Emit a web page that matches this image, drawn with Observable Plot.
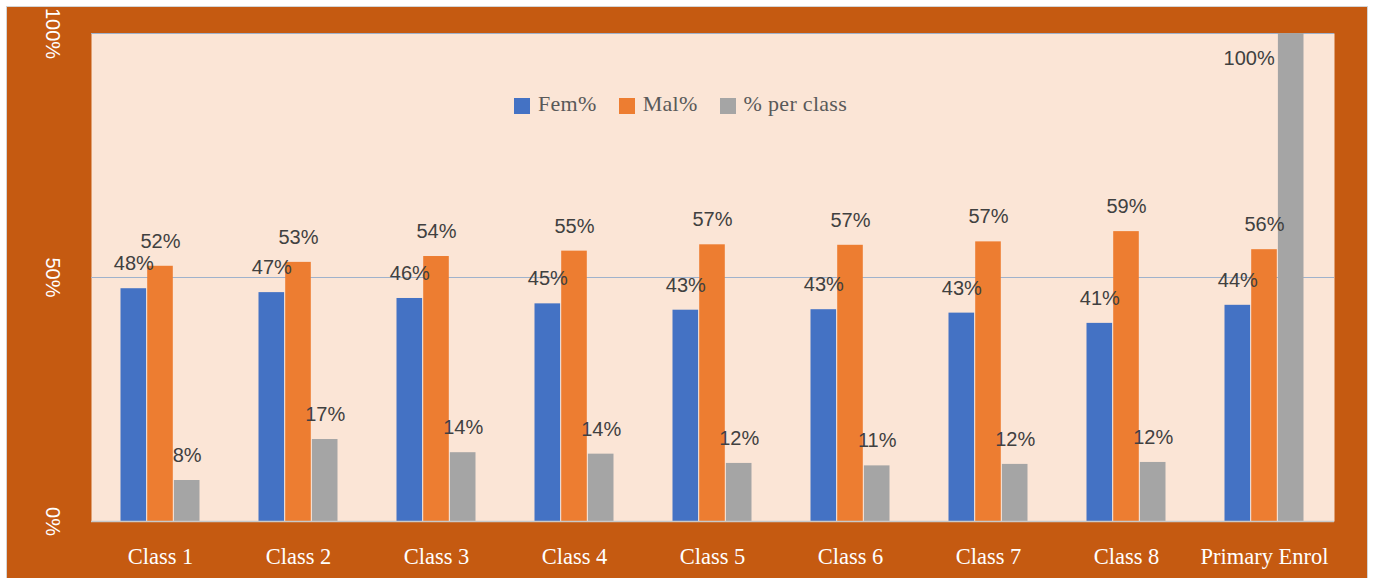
<!DOCTYPE html>
<html>
<head>
<meta charset="utf-8">
<script src="https://cdn.jsdelivr.net/npm/d3@7"></script>
<script src="https://cdn.jsdelivr.net/npm/@observablehq/plot@0.6"></script>
<style>
  html, body { margin: 0; padding: 0; background: #ffffff; }
  #wrap { position: relative; width: 1377px; height: 578px; overflow: hidden; }
  #bg { position: absolute; left: 6px; top: 6px; width: 1360px; height: 580px; background: #C55A11; border: 1px solid #D4D4D4; }
  #chart { position: absolute; left: 0; top: 0; }
  #legend { position: absolute; left: 514px; top: 91px; display: flex; align-items: center; font-family: "Liberation Serif", serif; font-size: 22px; color: #595959; }
  #legend .item { display: flex; align-items: center; margin-right: 22px; }
  #legend .sw { width: 16px; height: 16px; margin-right: 8px; margin-top: 4px; }
  #legend .lbl { letter-spacing: 0.3px; }
</style>
</head>
<body>
<div id="wrap">
  <div id="bg"></div>
  <div id="chart"></div>
  <div id="legend"></div>
</div>
<script>
const categories = ["Class 1", "Class 2", "Class 3", "Class 4", "Class 5", "Class 6", "Class 7", "Class 8", "Primary Enrol"];
const femPct = [47.7, 46.9, 45.7, 44.6, 43.3, 43.4, 42.7, 40.6, 44.3];
const malPct = [52.3, 53.1, 54.3, 55.4, 56.7, 56.6, 57.3, 59.4, 55.7];
const perClassPct = [8.4, 16.8, 14.1, 13.8, 11.9, 11.4, 11.7, 12.1, 100];
const seriesNames = ["Fem%", "Mal%", "% per class"];
const seriesColors = ["#4472C4", "#ED7D31", "#A5A5A5"];
const yTicks = [0, 0.5, 1];

const rows = categories.map((c, i) => ({
  category: c,
  fem: femPct[i] / 100,
  mal: malPct[i] / 100,
  per: perClassPct[i] / 100
}));

const fmt = d3.format(".0%");
const bw = 26.7; // bar slot width within group
const labelStyle = { fill: "#404040", fontSize: 20, fontFamily: "Liberation Sans, Arial, sans-serif", textAnchor: "middle" };

const chart = Plot.plot({
  width: 1377,
  height: 578,
  marginLeft: 91,
  marginRight: 43,
  marginTop: 33,
  marginBottom: 57,
  style: { background: "transparent", overflow: "visible" },
  x: { domain: categories, paddingInner: 0.42, paddingOuter: 0.21, label: null },
  y: { domain: [0, 1], label: null },
  marks: [
    Plot.frame({ fill: "#FBE5D6", stroke: null }),
    Plot.ruleY([0.5, 1], { stroke: "#9FB2CC", strokeWidth: 1 }),
    Plot.barY(rows, { x: "category", y: "fem", fill: seriesColors[0], insetLeft: 0.5, insetRight: 2 * bw + 0.5 }),
    Plot.barY(rows, { x: "category", y: "mal", fill: seriesColors[1], insetLeft: bw + 0.5, insetRight: bw + 0.5 }),
    Plot.barY(rows, { x: "category", y: "per", fill: seriesColors[2], insetLeft: 2 * bw + 0.5, insetRight: 0.5 }),
    Plot.ruleY([0], { stroke: "#C9C9C9", strokeWidth: 1.5 }),
    Plot.text(rows, { x: "category", y: "fem", text: d => fmt(d.fem), dx: -bw, dy: -25, ...labelStyle }),
    Plot.text(rows, { x: "category", y: "mal", text: d => fmt(d.mal), dx: 0, dy: -25, ...labelStyle }),
    Plot.text(rows.filter(d => d.per < 1), { x: "category", y: "per", text: d => fmt(d.per), dx: bw, dy: -25, ...labelStyle }),
    Plot.text(rows.filter(d => d.per >= 1), { x: "category", y: "per", text: d => fmt(d.per), dx: bw - 42, dy: 25, ...labelStyle }),
    Plot.axisX({ tickSize: 0, tickPadding: 27, fill: "#FFFFFF", fontSize: 22.5, fontFamily: "Liberation Serif, serif", label: null }),
    Plot.axisY({ ticks: yTicks, tickFormat: fmt, tickSize: 0, tickPadding: 39, rotate: 90, textAnchor: "middle", lineAnchor: "middle", fill: "#FFFFFF", fontSize: 20, fontFamily: "Liberation Sans, Arial, sans-serif", label: null })
  ]
});
document.getElementById("chart").appendChild(chart);

const legend = document.getElementById("legend");
seriesNames.forEach((name, i) => {
  const item = document.createElement("div");
  item.className = "item";
  const sw = document.createElement("span");
  sw.className = "sw";
  sw.style.background = seriesColors[i];
  const t = document.createElement("span");
  t.className = "lbl";
  t.textContent = name;
  item.appendChild(sw);
  item.appendChild(t);
  legend.appendChild(item);
});
</script>
</body>
</html>
